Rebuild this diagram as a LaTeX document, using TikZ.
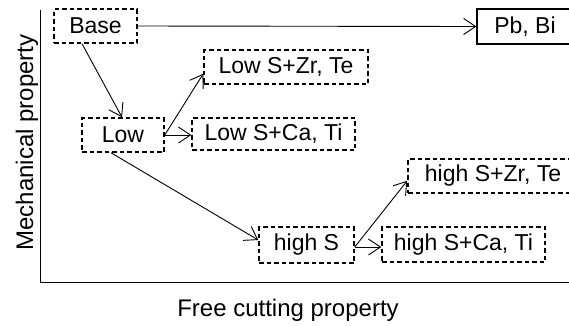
\documentclass[tikz,border=0pt]{standalone}
\usepackage{fontspec}
\setmainfont{Liberation Sans}
\usetikzlibrary{arrows.meta}
\begin{document}
\begin{tikzpicture}[x=1pt,y=-1pt,
  box/.style={draw, line width=1.5pt, dash pattern=on 4.5pt off 3pt, inner sep=0pt, font=\fontsize{23}{25}\selectfont, anchor=center},
  solidbox/.style={draw, line width=1.2pt, inner sep=0pt, font=\fontsize{23}{25}\selectfont, anchor=center},
  conn/.style={line width=0.9pt, -{Straight Barb[length=12pt,width=16pt,line width=0.9pt]}},
  axis/.style={line width=1pt},
  lbl/.style={font=\fontsize{24}{26}\selectfont, inner sep=0pt}]
\useasboundingbox (0,0) rectangle (569,325);
% axes
\coordinate (ytop) at (40,10);
\coordinate (orig) at (40,282);
\coordinate (xend) at (569,282);
\draw[axis] (ytop) -- (orig) -- (xend);
\node[lbl, rotate=90] (ylab) at (27,142.5) {Mechanical property};
\node[lbl] (xlab) at (288,310) {Free cutting property};
% nodes
\node[box, minimum width=83pt, minimum height=34pt] (base) at (95.5,26) {Base};
\node[solidbox, minimum width=96pt, minimum height=35pt] (pb) at (525,26.5) {Pb, Bi};
\node[box, minimum width=82pt, minimum height=34pt] (low) at (123,135) {Low};
\node[box, minimum width=164pt, minimum height=34pt] (lowzr) at (286,67) {Low S+Zr, Te};
\node[box, minimum width=163pt, minimum height=32pt] (lowca) at (273.5,134) {Low S+Ca, Ti};
\node[box, minimum width=95pt, minimum height=36pt] (highs) at (306.5,245) {high S};
\node[box, minimum width=170pt, minimum height=34pt] (highzr) at (493,176) {high S+Zr, Te};
\node[box, minimum width=163pt, minimum height=35pt] (highca) at (463.5,244.5) {high S+Ca, Ti};
\coordinate (hsout) at ([yshift=-2pt]highs.east);
% connectors
\draw[conn] (base.east) -- (pb.west);
\draw[conn] ([xshift=-13.5pt]base.south) -- ([xshift=-1pt]low.north);
\draw[conn] (low.east) -- ([yshift=11pt]lowzr.south west);
\draw[conn] (low.east) -- (lowca.west |- low.east);
\draw[conn] ([xshift=-12pt]low.south) -- ([yshift=5pt]highs.west);
\draw[conn] (hsout) -- ([yshift=13pt]highzr.south west);
\draw[conn] (hsout) -- (highca.west |- hsout);
\end{tikzpicture}
\end{document}
